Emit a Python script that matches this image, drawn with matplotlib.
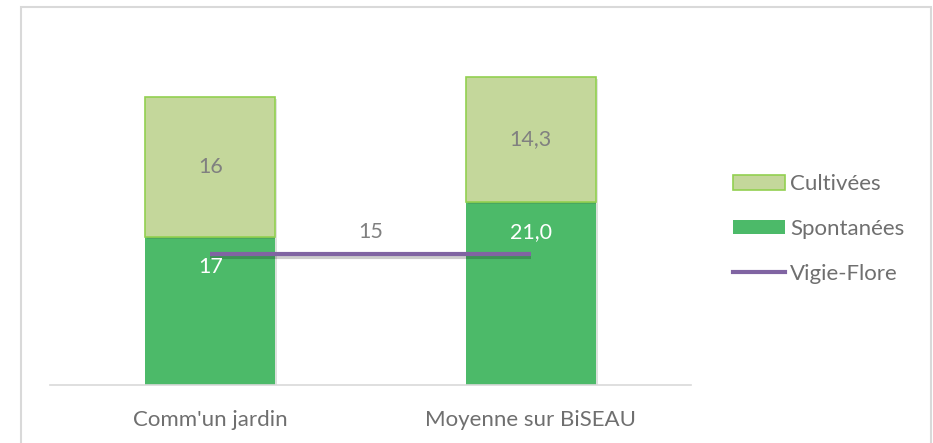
import matplotlib
matplotlib.use("Agg")
import matplotlib.pyplot as plt
import matplotlib.patheffects as pe
from matplotlib.patches import Rectangle, Patch
from matplotlib.lines import Line2D
import numpy as np

plt.rcParams['font.family'] = ['Lato', 'DejaVu Sans']

categories = ["Comm'un jardin", "Moyenne sur BiSEAU"]
spontanees = [17, 21.0]
cultivees = [16, 14.3]
spont_labels = ["17", "21,0"]
cult_labels = ["16", "14,3"]
vigie = [15, 15]
vigie_label = "15"

c_cult = "#c4d79b"
c_cult_edge = "#92d050"
c_spont = "#4cba69"
c_line = "#8064a2"
grey = "#808080"
fs = 16

fig = plt.figure(figsize=(9.33, 4.43), dpi=100)
ax = fig.add_axes([50/933, 58/443, 641/933, 349/443])

x = np.arange(len(categories))
w = 0.406
shadow = [pe.SimplePatchShadow(offset=(1.5, -1.5), alpha=0.15), pe.Normal()]
ax.bar(x, spontanees, w, color=c_spont, path_effects=shadow, zorder=2)
ax.bar(x, cultivees, w, bottom=spontanees, color=c_cult,
       edgecolor=c_cult_edge, linewidth=1.2, path_effects=shadow, zorder=2)
ax.plot(x, vigie, color=c_line, lw=3, zorder=3, solid_capstyle='butt',
        path_effects=[pe.SimpleLineShadow(offset=(0, -2), alpha=0.2), pe.Normal()])

# legend handles without shadows
h_cult = Patch(facecolor=c_cult, edgecolor=c_cult_edge, linewidth=1.2)
h_spont = Patch(facecolor=c_spont)
h_line = Line2D([], [], color=c_line, lw=3)

for i in range(len(categories)):
    ax.annotate(spont_labels[i], (x[i], spontanees[i]), xytext=(0, -22),
                textcoords='offset points', ha='center', va='center',
                color='white', fontsize=15.5, zorder=4)
    ax.text(x[i], spontanees[i] + cultivees[i] / 2, cult_labels[i],
            ha='center', va='center', color=grey, fontsize=15.5, zorder=4)
ax.annotate(vigie_label, (x.mean(), vigie[0]), xytext=(0, 16),
            textcoords='offset points', ha='center', va='center',
            color=grey, fontsize=15.5)

ax.set_xlim(-0.5, 1.5)
ax.set_ylim(0, 40)
ax.set_xticks(x)
ax.set_xticklabels(categories, color="#6f6f6f", fontsize=fs)
ax.set_yticks([])
ax.tick_params(axis='x', length=0, pad=18)
for s in ['top', 'right', 'left']:
    ax.spines[s].set_visible(False)
ax.spines['bottom'].set_color("#d9d9d9")
ax.spines['bottom'].set_linewidth(1.2)

fig.legend(handles=[h_cult, h_spont, h_line],
           labels=["Cultivées", "Spontanées", "Vigie-Flore"],
           loc='center left', bbox_to_anchor=(733/933, 1 - 229/443),
           frameon=False, fontsize=fs, labelcolor="#6f6f6f",
           handlelength=2.34, handleheight=0.63, handletextpad=0.23,
           labelspacing=1.12, borderpad=0, borderaxespad=0)

fig.patches.append(Rectangle((21/933, -0.05), 910/933, 1.05 - 7/443,
                             transform=fig.transFigure, fill=False,
                             edgecolor="#d9d9d9", lw=1.5))

fig.savefig("out.png", dpi=100)
